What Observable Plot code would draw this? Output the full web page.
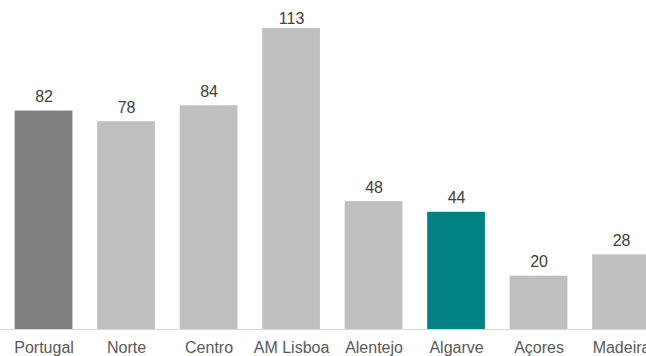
<!DOCTYPE html>
<html>
<head>
<meta charset="utf-8">
<script src="https://cdn.jsdelivr.net/npm/d3@7"></script>
<script src="https://cdn.jsdelivr.net/npm/@observablehq/plot@0.6"></script>
<style>
  html, body { margin: 0; padding: 0; background: #fff; }
  #chart { width: 646px; height: 356px; overflow: hidden; }
</style>
</head>
<body>
<div id="chart"></div>
<script>
const regions = ["Portugal", "Norte", "Centro", "AM Lisboa", "Alentejo", "Algarve", "Açores", "Madeira"];
const values = [82, 78, 84, 113, 48, 44, 20, 28];
const colors = ["#7f7f7f", "#bfbfbf", "#bfbfbf", "#bfbfbf", "#bfbfbf", "#008080", "#bfbfbf", "#bfbfbf"];

const data = regions.map((r, i) => ({region: r, value: values[i], color: colors[i]}));
const maxVal = d3.max(values);

const chart = Plot.plot({
  width: 646,
  height: 356,
  marginLeft: 0,
  marginRight: 0,
  marginTop: 0,
  marginBottom: 27,
  style: {fontFamily: "'Liberation Sans', Arial, sans-serif", background: "#fff", overflow: "hidden"},
  x: {domain: regions, range: [0, 664.6], paddingInner: 0.3, paddingOuter: 0.178, align: 0.5, round: false, axis: null},
  y: {domain: [0, maxVal], range: [329, 28], axis: null},
  marks: [
    Plot.barY(data, {x: "region", y: "value", fill: "color"}),
    Plot.ruleY([0], {stroke: "#d9d9d9", strokeWidth: 1}),
    Plot.text(data.filter(d => d.value < 100), {x: "region", y: "value", text: d => String(d.value), lineAnchor: "bottom", dy: -9, fontSize: 16, fill: "#404040"}),
    Plot.text(data.filter(d => d.value >= 100), {x: "region", y: "value", text: d => String(d.value), lineAnchor: "bottom", dy: -5, fontSize: 16, fill: "#404040"}),
    Plot.text(data, {x: "region", y: 0, text: "region", lineAnchor: "bottom", dy: 23, fontSize: 16, fill: "#595959"})
  ]
});
document.getElementById("chart").appendChild(chart);
</script>
</body>
</html>
